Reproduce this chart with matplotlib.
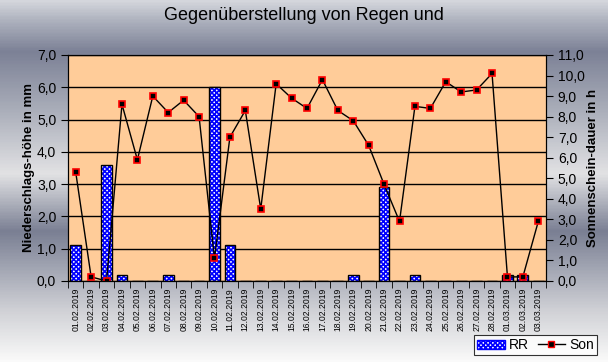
import numpy as np
import matplotlib
matplotlib.use("Agg")
import matplotlib.pyplot as plt
from matplotlib.ticker import FuncFormatter, FixedLocator
from matplotlib.colors import LinearSegmentedColormap
from matplotlib.patches import Patch
from matplotlib.lines import Line2D

plt.rcParams['font.family'] = ['Liberation Sans', 'DejaVu Sans']
plt.rcParams['hatch.linewidth'] = 1.2

# Daten
dates = ["01.02.2019", "02.02.2019", "03.02.2019", "04.02.2019", "05.02.2019",
         "06.02.2019", "07.02.2019", "08.02.2019", "09.02.2019", "10.02.2019",
         "11.02.2019", "12.02.2019", "13.02.2019", "14.02.2019", "15.02.2019",
         "16.02.2019", "17.02.2019", "18.02.2019", "19.02.2019", "20.02.2019",
         "21.02.2019", "22.02.2019", "23.02.2019", "24.02.2019", "25.02.2019",
         "26.02.2019", "27.02.2019", "28.02.2019", "01.03.2019", "02.03.2019",
         "03.03.2019"]
rr = [1.1, 0.0, 3.6, 0.2, 0.0, 0.0, 0.2, 0.0, 0.0, 6.0,
      1.1, 0.0, 0.0, 0.0, 0.0, 0.0, 0.0, 0.0, 0.2, 0.0,
      2.9, 0.0, 0.2, 0.0, 0.0, 0.0, 0.0, 0.0, 0.2, 0.2, 0.0]
son = [5.3, 0.2, 0.0, 8.6, 5.9, 9.0, 8.2, 8.8, 8.0, 1.1,
       7.0, 8.3, 3.5, 9.6, 8.9, 8.4, 9.8, 8.3, 7.8, 6.6,
       4.7, 2.9, 8.5, 8.4, 9.7, 9.2, 9.3, 10.1, 0.2, 0.2, 2.9]

komma = FuncFormatter(lambda v, p: f"{v:.1f}".replace(".", ","))

fig = plt.figure(figsize=(6.08, 3.62), dpi=100)

# Hintergrund mit Farbverlauf (metallisch), von oben nach unten
bg = fig.add_axes([0, 0, 1, 1], zorder=-10)
stops = [(0.0, "#d4d6dc"), (0.05, "#b0b4c0"), (0.14, "#7c8196"), (0.30, "#a9adb9"),
         (0.48, "#e2e2e4"), (0.56, "#aeb1bc"), (0.64, "#7a7f93"), (0.73, "#9da1af"),
         (0.86, "#d0d1d6"), (1.0, "#fafafa")]
cmap = LinearSegmentedColormap.from_list("metall", stops)
bg.imshow(np.linspace(0, 1, 362).reshape(-1, 1), aspect="auto", cmap=cmap,
          extent=[0, 1, 0, 1], origin="upper", vmin=0, vmax=1)
bg.axis("off")

ax = fig.add_axes([68 / 608, 1 - 281 / 362, 478 / 608, 226 / 362])
ax.set_facecolor("#ffcc99")
x = np.arange(len(dates))

# Balken: blau/weiss gemustert mit schwarzem Rand
ax.bar(x, rr, width=0.7, color="white", edgecolor="#0000ff", hatch="xxxxxxx",
       linewidth=0, zorder=2)
ax.bar(x, rr, width=0.7, fill=False, edgecolor="black", linewidth=1, zorder=3)

ax.set_xlim(-0.5, len(dates) - 0.5)
ax.set_ylim(0, 7)
ax.set_yticks(np.arange(0, 7.1, 1))
ax.yaxis.set_major_formatter(komma)
ax.grid(axis="y", color="black", linewidth=1)
ax.set_axisbelow(True)
ax.set_xticks(x)
ax.set_xticklabels(dates, rotation=90, fontsize=6.2)
ax.xaxis.set_minor_locator(FixedLocator(np.arange(-0.5, len(dates), 1)))
ax.tick_params(axis="x", which="major", length=0, pad=5)
ax.tick_params(axis="x", which="minor", length=5, direction="out")
ax.tick_params(axis="y", length=5, direction="out", labelsize=10)
ax.set_ylabel("Niederschlags-höhe in mm", fontsize=9.5, fontweight="bold", labelpad=1)

ax2 = ax.twinx()
ax2.plot(x, son, color="black", linewidth=1, marker="s", markersize=5,
         markerfacecolor="black", markeredgecolor="red", markeredgewidth=1.2)
ax2.set_ylim(0, 11)
ax2.set_yticks(np.arange(0, 11.1, 1))
ax2.yaxis.set_major_formatter(komma)
ax2.tick_params(axis="y", length=5, direction="out", labelsize=10)
ax2.set_ylabel("Sonnenschein-dauer in h", fontsize=9.5, fontweight="bold", labelpad=2)

fig.text(0.5, 1 - 16 / 362, "Gegenüberstellung von Regen und", ha="center",
         va="center", fontsize=13)

handles = [Patch(facecolor="white", edgecolor="#0000ff", hatch="xxxxxxx", label="RR"),
           Line2D([], [], color="black", linewidth=1, marker="s", markersize=5,
                  markerfacecolor="black", markeredgecolor="red", label="Son")]
leg = fig.legend(handles=handles, loc="lower right", bbox_to_anchor=(597 / 608, 1 - 355 / 362),
                 ncol=2, fontsize=10, frameon=True, fancybox=False, borderpad=0.2,
                 handlelength=2.0, columnspacing=0.6, handletextpad=0.3,
                 borderaxespad=0)
leg.get_frame().set_edgecolor("black")
leg.get_frame().set_linewidth(0.8)

fig.savefig("out.png", dpi=100)
